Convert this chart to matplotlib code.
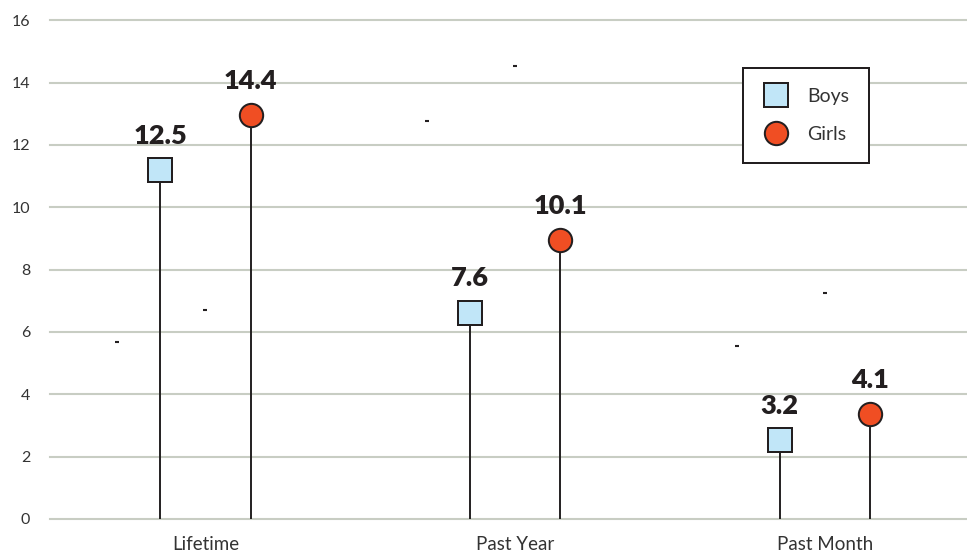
import matplotlib
matplotlib.use("Agg")
import matplotlib.pyplot as plt
from matplotlib.lines import Line2D

categories = ["Lifetime", "Past Year", "Past Month"]
boys = [12.5, 7.6, 3.2]
girls = [14.4, 10.1, 4.1]
y_ticks = [0, 2, 4, 6, 8, 10, 12, 14, 16]

# little dash marks scattered in the plot area (two per group)
dash_x_offsets = [-0.285, 0.0]
dash_values = [[5.69, 6.70], [12.77, 14.52], [5.56, 7.24]]

INK = "#231f20"
BOY_FILL = "#c1e6f8"
GIRL_FILL = "#f04e23"
GRID = "#c8cdc3"

plt.rcParams["font.family"] = ["Lato", "DejaVu Sans"]

fig = plt.figure(figsize=(9.67, 5.55), dpi=100)
ax = fig.add_axes([0.0522, 0.0649, 0.961, 0.9266])
ax.set_xlim(-0.5, 2.5)
ax.set_ylim(0, 16.5)

for t in y_ticks:
    ax.axhline(t, color=GRID, lw=1.5, clip_on=False, zorder=0)

ax.set_yticks(y_ticks)
ax.set_xticks(range(len(categories)), categories)
ax.tick_params(axis="y", length=0, pad=14.5, labelsize=11.5, labelcolor="#333333")
ax.tick_params(axis="x", length=0, pad=12, labelsize=13.5, labelcolor="#333333")
for s in ax.spines.values():
    s.set_visible(False)

for i, vals in enumerate(dash_values):
    ax.plot([i + o for o in dash_x_offsets], vals, ls="none", marker="_",
            ms=2.3, mew=1.5, color=INK, zorder=1)

# the lollipops sit on their own value scale laid over the grid
scale_a, scale_b = 0.9319, -0.458
lo, hi = ax.get_ylim()
vax = ax.twinx()
vax.set_ylim((lo - scale_b) / scale_a, (hi - scale_b) / scale_a)
vax.set_yticks([])
for s in vax.spines.values():
    s.set_visible(False)

base = vax.get_ylim()[0]
off = 0.146
xb = [i - off for i in range(len(categories))]
xg = [i + off for i in range(len(categories))]

vax.vlines(xb, base, boys, color=INK, lw=1.4, zorder=2)
vax.vlines(xg, base, girls, color=INK, lw=1.4, zorder=2)
vax.plot(xb, boys, ls="none", marker="s", ms=17.8, mfc=BOY_FILL, mec=INK,
         mew=1.44, zorder=3)
vax.plot(xg, girls, ls="none", marker="o", ms=16.8, mfc=GIRL_FILL, mec=INK,
         mew=1.44, zorder=3)

for x, v in list(zip(xb, boys)) + list(zip(xg, girls)):
    vax.annotate(f"{v}", (x, v), xytext=(0, 19), textcoords="offset points",
                 ha="center", va="baseline", fontsize=19.5, fontweight="heavy",
                 color=INK)

handles = [
    Line2D([], [], ls="none", marker="s", ms=17.8, mfc=BOY_FILL, mec=INK, mew=1.44),
    Line2D([], [], ls="none", marker="o", ms=16.8, mfc=GIRL_FILL, mec=INK, mew=1.44),
]
leg = fig.legend(handles, ["Boys", "Girls"], loc="upper left",
                 bbox_to_anchor=(743.3 / 967, 1 - 68.3 / 555),
                 fontsize=14, frameon=True, fancybox=False, framealpha=1,
                 edgecolor=INK, borderpad=1.0, labelspacing=1.1,
                 handlelength=1.35, handletextpad=0.95, borderaxespad=0)
leg.get_frame().set_linewidth(1.44)
for t in leg.get_texts():
    t.set_color("#333333")

fig.savefig("out.png", dpi=100)
